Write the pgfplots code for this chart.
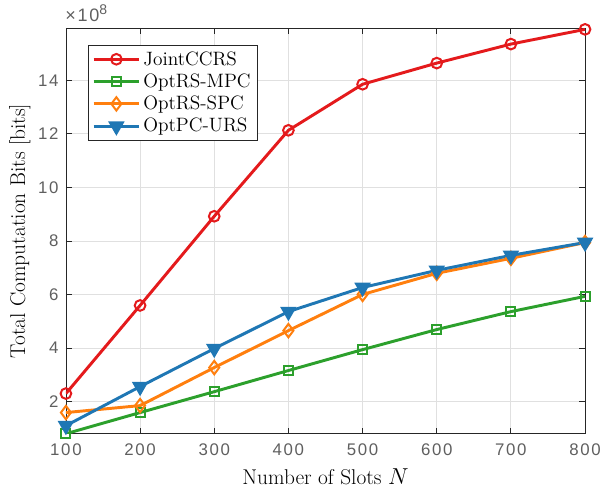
\documentclass[border=0pt]{standalone}
\usepackage{fontspec}
\usepackage{pgfplots}
\pgfplotsset{compat=1.18}
\newfontfamily\tickfont[LetterSpace=10]{Liberation Sans}
\definecolor{cR}{RGB}{228,26,28}
\definecolor{cG}{RGB}{44,160,44}
\definecolor{cO}{RGB}{255,127,14}
\definecolor{cB}{RGB}{31,119,180}
\definecolor{tickgray}{RGB}{95,95,95}
\begin{document}
\begin{tikzpicture}
\begin{axis}[
  scale only axis,
  width=389pt, height=304pt,
  xmin=100, xmax=800, ymin=0.80e8, ymax=15.95e8,
  xtick={100,200,...,800},
  ytick={2e8,4e8,6e8,8e8,10e8,12e8,14e8},
  scaled y ticks=base 10:-8,
  /pgf/number format/assume math mode=true,
  ticklabel style={font=\tickfont\fontsize{12.6}{14}\selectfont, text=tickgray},
  xticklabel style={yshift=-4pt},
  yticklabel style={xshift=-2pt},
  ytick scale label code/.code={\tickfont\fontsize{13.5}{15}\selectfont ×10\raisebox{0.75ex}{\fontsize{10.5}{11}\selectfont 8}},
  every y tick scale label/.style={at={(0,1)}, anchor=south west, xshift=-2pt, yshift=1pt, text=tickgray},
  grid=major,
  major grid style={draw=black!12, line width=0.6pt},
  tick align=inside,
  major tick length=4.5pt,
  axis line style={draw=black!85, line width=0.6pt},
  tick style={draw=black!85, line width=0.6pt},
  xlabel={Number of Slots $N$},
  ylabel={Total Computation Bits [bits]},
  label style={font=\fontsize{16}{18}\selectfont},
  xlabel style={yshift=-3pt},
  ylabel style={yshift=-1pt},
  legend style={at={(0.042,0.958)}, anchor=north west, font=\fontsize{14.5}{16.5}\selectfont, draw=black!85, line width=0.6pt, row sep=1pt, inner sep=2.5pt, inner xsep=3pt},
  legend cell align=left,
  legend image code/.code={
    \draw[mark repeat=2,mark phase=2,#1] plot coordinates {(0cm,0cm) (0.6cm,0cm) (1.2cm,0cm)};
  },
  every axis plot/.append style={line width=2.2pt, mark options={solid, line width=1.5pt}},
]
\coordinate (ll) at (rel axis cs:0,0);
\coordinate (ur) at (rel axis cs:1,1);
\addplot[color=cR, mark=o, mark size=4pt] coordinates {
(100,2.30e8) (200,5.59e8) (300,8.92e8) (400,12.13e8) (500,13.85e8) (600,14.64e8) (700,15.35e8) (800,15.90e8)};
\addlegendentry{JointCCRS}
\addplot[color=cG, mark=square, mark size=3.4pt] coordinates {
(100,0.80e8) (200,1.59e8) (300,2.37e8) (400,3.16e8) (500,3.94e8) (600,4.69e8) (700,5.36e8) (800,5.93e8)};
\addlegendentry{OptRS-MPC}
\addplot[color=cO, mark=diamond, mark size=5pt] coordinates {
(100,1.59e8) (200,1.85e8) (300,3.27e8) (400,4.65e8) (500,6.00e8) (600,6.79e8) (700,7.35e8) (800,7.94e8)};
\addlegendentry{OptRS-SPC}
\addplot[color=cB, mark=triangle*, mark options={rotate=180}, mark size=5pt] coordinates {
(100,1.10e8) (200,2.56e8) (300,3.98e8) (400,5.36e8) (500,6.26e8) (600,6.90e8) (700,7.46e8) (800,7.94e8)};
\addlegendentry{OptPC-URS}
\end{axis}
\pgfresetboundingbox
\path ([xshift=-49.4pt,yshift=-45pt]ll) rectangle ([xshift=12.7pt,yshift=21pt]ur);
\end{tikzpicture}
\end{document}
